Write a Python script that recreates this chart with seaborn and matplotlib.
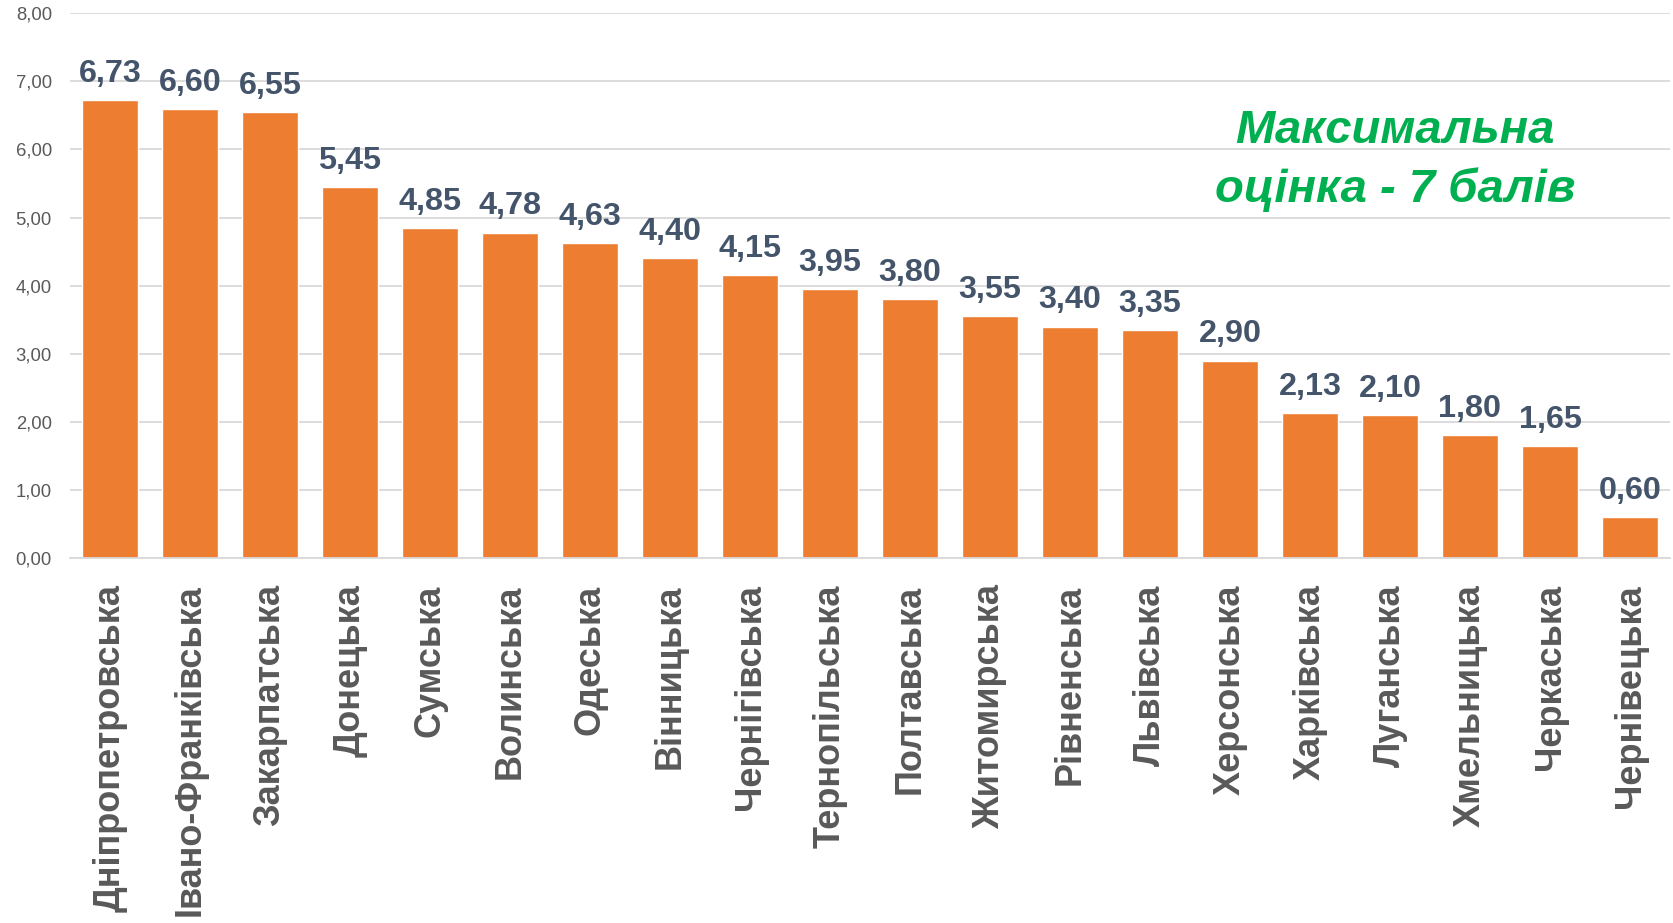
#!/usr/bin/env python

import matplotlib
matplotlib.use('Agg')
import matplotlib.pyplot as plt
import seaborn as sns
from matplotlib.ticker import FuncFormatter, MultipleLocator

# Regions of Ukraine and their score (max 7)
regions = ['Дніпропетровська', 'Івано-Франківська', 'Закарпатська', 'Донецька',
           'Сумська', 'Волинська', 'Одеська', 'Вінницька', 'Чернігівська',
           'Тернопільська', 'Полтавська', 'Житомирська', 'Рівненська',
           'Львівська', 'Херсонська', 'Харківська', 'Луганська',
           'Хмельницька', 'Черкаська', 'Чернівецька']
scores = [6.73, 6.60, 6.55, 5.45, 4.85, 4.78, 4.63, 4.40, 4.15, 3.95, 3.80,
          3.55, 3.40, 3.35, 2.90, 2.13, 2.10, 1.80, 1.65, 0.60]
note_lines = ['Максимальна', 'оцінка - 7 балів']


def comma(v, _=None):
    return '{:.2f}'.format(v).replace('.', ',')


def create_plot():
    sns.set_style('white')
    plt.rcParams['font.family'] = ['Liberation Sans', 'DejaVu Sans']

    fig = plt.figure(figsize=(16.74, 9.23), dpi=100)
    ax = fig.add_axes([70 / 1674, 1 - 558 / 923, 1600 / 1674, (558 - 13.3) / 923])

    sns.barplot(x=regions, y=scores, color='#ED7D31', saturation=1, width=0.7, ax=ax)

    ax.set_xlim(-0.5, len(regions) - 0.5)
    ax.set_ylim(0, 8)
    ax.yaxis.set_major_locator(MultipleLocator(1))
    ax.yaxis.set_major_formatter(FuncFormatter(comma))
    ax.grid(axis='y', color='#D9D9D9', lw=1.3)
    ax.set_axisbelow(True)
    for side in ['top', 'right', 'left']:
        ax.spines[side].set_visible(False)
    ax.spines['bottom'].set_color('#D9D9D9')
    ax.spines['bottom'].set_linewidth(1.3)

    ax.tick_params(axis='y', length=0, pad=13, labelsize=13.3, labelcolor='#595959')
    ax.tick_params(axis='x', length=0, pad=19, labelsize=26, labelcolor='#595959')
    for lbl in ax.get_xticklabels():
        lbl.set_rotation(90)
        lbl.set_fontweight('bold')
        lbl.set_va('top')
        lbl.set_ha('center')
    ax.set_xlabel('')
    ax.set_ylabel('')

    for i, v in enumerate(scores):
        ax.annotate(comma(v), (i, v), xytext=(0, 13), textcoords='offset points',
                    ha='center', va='baseline', fontsize=23.3, fontweight='bold',
                    color='#44546A')

    fig.text(1395 / 1674, 1 - 143 / 923, note_lines[0], ha='center', va='baseline',
             fontsize=34, fontweight='bold', fontstyle='italic', color='#00B050')
    fig.text(1395 / 1674, 1 - 202 / 923, note_lines[1], ha='center', va='baseline',
             fontsize=34, fontweight='bold', fontstyle='italic', color='#00B050')

    fig.savefig('out.png', dpi=100)


if __name__ == '__main__':
    create_plot()
